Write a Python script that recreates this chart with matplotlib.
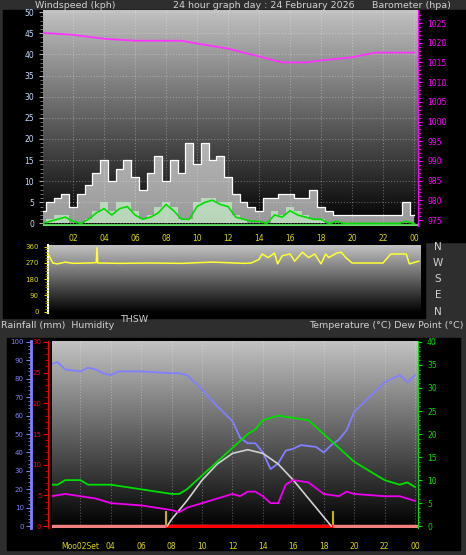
import numpy as np
import matplotlib
matplotlib.use("Agg")
import matplotlib.pyplot as plt
from matplotlib.patches import Rectangle

# ---------------- data ----------------
hours_30 = [i * 0.5 for i in range(49)]
wind_gust = [3, 5, 6, 7, 4, 7, 9, 12, 15, 10, 13, 15, 11, 8, 12, 16, 10, 15, 12, 19,
             14, 19, 15, 16, 11, 7, 5, 4, 3, 6, 6, 7, 7, 6, 6, 8, 4, 3, 2, 2,
             2, 2, 2, 2, 2, 2, 2, 5, 2]
wind_avg = [0, 0.5, 1, 1.5, 0.5, 0, 1, 2.5, 3.5, 2, 3.5, 4, 2, 1, 1.5, 2.5, 4.5, 3, 1, 1,
            4, 5, 5.5, 4.5, 4, 1.5, 1, 0.5, 0.5, 0, 2, 1.5, 3, 2, 1.5, 1, 1, 0, 0.5, 0,
            0, 0, 0, 0, 0, 0, 0, 0.5, 0]
wind_low = [0, 1, 2, 2, 0, 0, 1, 3, 5, 3, 5, 5, 3, 1, 2, 4, 5, 4, 1, 1,
            5, 6, 6, 5, 5, 2, 1, 0, 0, 0, 3, 2, 4, 3, 2, 1, 1, 0, 0, 0,
            0, 0, 0, 0, 0, 0, 0, 0, 0]

baro_h = [0, 2, 4, 6, 8, 9, 10, 12, 14, 15.5, 17, 18, 20, 21.5, 24]
baro = [1022.5, 1022, 1021, 1020.5, 1020.5, 1020.5, 1019.8, 1018.5, 1016.5, 1015, 1015, 1015.5, 1016.3, 1017.5, 1017.5]

dir_h = [0.4, 0.7, 1, 1.5, 2, 3, 3.5, 3.55, 3.6, 5, 7, 9, 11, 13, 13.5, 14, 14.2, 14.6, 15, 15.2, 15.5,
         16, 16.3, 16.8, 17.2, 17.6, 18, 18.3, 18.5, 19, 19.3, 19.6, 20, 21, 22, 22.5, 23.5, 23.7, 24.3]
wind_dir = [320, 270, 265, 275, 268, 270, 272, 355, 270, 268, 270, 268, 275, 268, 270, 290, 320, 300, 325, 265, 310,
            320, 280, 330, 300, 320, 265, 320, 300, 325, 330, 300, 270, 270, 270, 320, 320, 265, 280]

hum_h = [0.1, 0.5, 1, 2, 2.5, 3, 3.5, 4, 4.5, 6, 8, 8.5, 9, 9.5, 10, 11, 12, 12.5, 13, 13.5, 14, 14.5, 15,
         15.5, 16, 16.5, 17.5, 18, 18.5, 19, 19.5, 20, 21, 22, 23, 23.5, 24]
humidity = [88, 89, 85, 84, 86, 85, 83, 82, 84, 84, 83, 83, 82, 78, 74, 65, 57, 48, 45, 45, 40, 31, 34,
            41, 42, 44, 43, 40, 44, 47, 52, 62, 70, 78, 82, 78, 82]

temp_h = [0.1, 0.5, 1, 2, 2.5, 4, 6, 7, 8, 8.5, 9, 10, 11, 12, 13, 13.5, 14, 15, 16, 17, 18, 19, 20, 21, 22, 23, 23.5, 24]
temperature = [9, 9, 10, 10, 9, 9, 8, 7.5, 7, 7, 8, 11, 14, 17, 20, 21, 23, 24, 23.5, 23, 20, 17, 14, 12, 10, 9, 9.5, 8.5]

dew_h = [0.1, 1, 2, 3, 4, 6, 8, 8.5, 9, 10, 11, 12, 12.5, 13, 13.5, 14, 14.5, 15, 15.5, 16, 17, 18, 19, 19.5, 20, 22, 23, 24]
dew_point = [6.5, 7, 6.5, 6, 5, 4.5, 3.5, 3, 4, 5, 6, 7, 6.5, 7.5, 7.5, 6.5, 5, 5, 9, 10, 9.5, 7, 6.5, 7.5, 7, 6.5, 6.5, 5.5]

sun_h = [7.7, 8, 9, 10, 11, 12, 13, 14, 15, 16, 17, 18, 18.5]
solar = [0, 1.5, 5.5, 10, 13.5, 15.8, 16.6, 15.8, 13.5, 10, 6, 2, 0]

sunrise, sunset = 7.6, 18.6
hour_ticks = [2, 4, 6, 8, 10, 12, 14, 16, 18, 20, 22, 24]
hour_labels = ["02", "04", "06", "08", "10", "12", "14", "16", "18", "20", "22", "00"]

# ---------------- figure ----------------
W, H = 466, 555
fig = plt.figure(figsize=(W / 100, H / 100), dpi=100)
fig.patch.set_facecolor("#2e2e2e")

def px(l, t, r, b):
    return [l / W, 1 - b / H, (r - l) / W, (b - t) / H]

for (l, t, r, b) in [(3, 10, 466, 242), (3, 242, 425, 318), (7, 338, 460, 550)]:
    fig.add_artist(Rectangle((l / W, 1 - b / H), (r - l) / W, (b - t) / H,
                             transform=fig.transFigure, color="black", zorder=0))

def gradient(ax, top=0.76):
    g = np.linspace(0, top, 256)[:, None]
    ax.imshow(g, extent=[0, 1, 0, 1], transform=ax.transAxes, aspect="auto",
              cmap="gray", vmin=0, vmax=1, origin="lower", zorder=0)

def style(ax):
    for s in ax.spines.values():
        s.set_visible(False)
    ax.grid(True, color="white", alpha=0.3, linestyle=":", linewidth=0.8)
    ax.set_axisbelow(False)

lc = "#d0d0d0"
fs = 5.5
hfs = 6.8

fig.text(35 / W, 1 - 5 / H, "Windspeed (kph)", color=lc, fontsize=hfs, va="center")
fig.text(173 / W, 1 - 5 / H, "24 hour graph day : 24 February 2026", color=lc, fontsize=hfs, va="center")
fig.text(372 / W, 1 - 5 / H, "Barometer (hpa)", color=lc, fontsize=hfs, va="center")

# ---- top: wind + barometer ----
ax1 = fig.add_axes(px(43, 10, 418, 226))
gradient(ax1)
ax1.fill_between(hours_30, wind_gust, step="mid", color="white", alpha=0.6, zorder=2, linewidth=0)
ax1.step(hours_30, wind_gust, where="mid", color="white", lw=0.9, zorder=3)
ax1.fill_between(hours_30, wind_low, step="mid", color="#c8f0c8", alpha=0.7, zorder=3, linewidth=0)
ax1.plot(hours_30, wind_avg, color="#00dd00", lw=1.2, zorder=4)
ax1.axhline(-0.4, color="#66dd66", lw=2, zorder=4)
ax1.set_xlim(0.06, 24.26)
ax1.set_ylim(-0.6, 50.5)
ax1.set_xticks(hour_ticks)
ax1.set_xticklabels(hour_labels)
ax1.set_yticks(range(0, 51, 5))
ax1.set_yticks(np.arange(0, 50.1, 1), minor=True)
ax1.tick_params(axis="x", colors="#d8d800", labelsize=fs, length=0, pad=6)
ax1.tick_params(axis="y", colors="#aaaaaa", labelcolor="#c8dcff", labelsize=fs, length=3)
ax1.tick_params(axis="y", which="minor", colors="#888888", length=2)
style(ax1)
ax1b = ax1.twinx()
ax1b.plot(baro_h, baro, color="#ff33ff", lw=1.3, zorder=5)
ax1b.set_ylim(973.5, 1028.3)
ax1b.set_yticks(range(975, 1026, 5))
ax1b.set_yticks(np.arange(975, 1028, 1), minor=True)
ax1b.tick_params(axis="y", colors="#ff00ff", labelsize=fs, length=3)
ax1b.tick_params(axis="y", which="minor", colors="#ff00ff", length=2)
for s in ax1b.spines.values():
    s.set_visible(False)
ax1b.spines["right"].set_visible(True)
ax1b.spines["right"].set_color("#ff00ff")

# ---- wind direction ----
ax2 = fig.add_axes(px(48, 245, 421, 313))
gradient(ax2)
ax2.plot(dir_h, wind_dir, color="#ffff33", lw=1.1, zorder=3)
ax2.set_xlim(0.39, 24.45)
ax2.set_ylim(-8, 370)
ax2.set_xticks([])
ax2.set_yticks([0, 90, 180, 270, 360])
ax2.set_yticks(range(0, 361, 15), minor=True)
ax2.tick_params(axis="y", colors="#d8d800", labelsize=fs - 0.5, length=3)
ax2.tick_params(axis="y", which="minor", colors="#b0a000", length=2)
style(ax2)
ax2.grid(False)
ax2.spines["left"].set_visible(True)
ax2.spines["left"].set_color("white")
ax2.spines["left"].set_linewidth(1.5)
for lbl, v in zip(["N", "W", "S", "E", "N"], [360, 270, 180, 90, 0]):
    ax2.text(1.045, (v + 8) / 378, lbl, transform=ax2.transAxes, color=lc,
             fontsize=7.5, ha="center", va="center")

fig.text(1 / W, 1 - 326 / H, "Rainfall (mm)  Humidity", color=lc, fontsize=hfs, va="center")
fig.text(120 / W, 1 - 319 / H, "THSW", color=lc, fontsize=hfs, va="center")
fig.text(464 / W, 1 - 326 / H, "Temperature (°C) Dew Point (°C)", color=lc, fontsize=hfs,
         va="center", ha="right")

# ---- bottom: temp/humidity ----
ax3 = fig.add_axes(px(52, 341, 418, 528))
gradient(ax3)
ax3.plot(hum_h, humidity, color="#8080ff", lw=1.3, zorder=3)
ax3.set_xlim(0.13, 24.2)
ax3.set_ylim(-1, 100.5)
ax3.set_xticks(hour_ticks)
ax3.set_xticklabels(["Moo02Set"] + hour_labels[1:])
ax3.tick_params(axis="x", colors="#d8d800", labelsize=fs, length=0, pad=10)
ax3.set_yticks([])
style(ax3)
ax3.vlines([sunrise, sunset], 0, 8, color="#c8b400", lw=1.5, zorder=4)
ax3.plot([0.13, 24.2], [0, 0], color="#f08080", lw=2.5, zorder=4)
ax3.plot([7.7, 18.5], [0, 0], color="red", lw=2.5, zorder=5)

axh = fig.add_axes(px(30, 341, 31, 528))
axh.set_ylim(-1, 100.5)
axh.set_xticks([])
axh.set_yticks(range(0, 101, 10))
axh.set_yticks(range(0, 101, 2), minor=True)
axh.tick_params(axis="y", colors="#8080ff", labelsize=fs - 0.5, length=3, pad=1.5)
axh.tick_params(axis="y", which="minor", colors="#8080ff", length=1.5)
axh.patch.set_alpha(0)
for s in axh.spines.values():
    s.set_visible(False)
axh.spines["right"].set_visible(True)
axh.spines["right"].set_color("#8080ff")
axh.spines["right"].set_linewidth(2)

axr = fig.add_axes(px(47, 341, 48, 528))
axr.set_ylim(-0.3, 30.15)
axr.set_xticks([])
axr.set_yticks(range(0, 31, 5))
axr.set_yticks(range(0, 31, 1), minor=True)
axr.tick_params(axis="y", colors="red", labelsize=fs - 0.5, length=3, pad=1)
axr.tick_params(axis="y", which="minor", colors="red", length=1.5)
axr.patch.set_alpha(0)
for s in axr.spines.values():
    s.set_visible(False)
axr.spines["right"].set_visible(True)
axr.spines["right"].set_color("red")

ax3b = ax3.twinx()
ax3b.plot(sun_h, solar, color="#d0d0d0", lw=1.2, zorder=3)
ax3b.plot(temp_h, temperature, color="#00dd00", lw=1.3, zorder=4)
ax3b.plot(dew_h, dew_point, color="#ee00ee", lw=1.3, zorder=4)
ax3b.set_ylim(-0.4, 40.2)
ax3b.set_yticks(range(0, 41, 5))
ax3b.set_yticks(range(0, 41, 1), minor=True)
ax3b.tick_params(axis="y", colors="#00dd00", labelsize=fs, length=3)
ax3b.tick_params(axis="y", which="minor", colors="#00dd00", length=1.5)
for s in ax3b.spines.values():
    s.set_visible(False)
ax3b.spines["right"].set_visible(True)
ax3b.spines["right"].set_color("#00dd00")

fig.savefig("out.png", dpi=100, facecolor=fig.get_facecolor())
